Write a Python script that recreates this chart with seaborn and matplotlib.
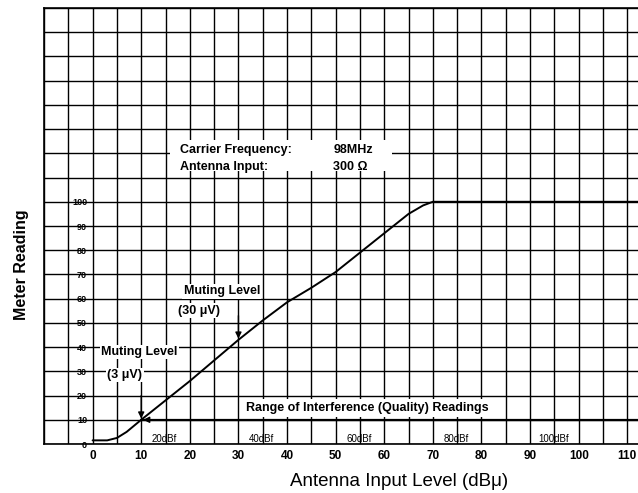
import matplotlib
matplotlib.use("Agg")
import matplotlib.pyplot as plt
import seaborn as sns
import numpy as np
import pandas as pd
from matplotlib.patches import Rectangle

# ---- data ----
input_level = [0, 3, 5, 7, 10, 15, 20, 25, 30, 35, 40, 45, 50, 55, 60, 65, 68, 70, 72, 113]
meter_reading = [1.5, 1.5, 2.5, 5, 10, 18, 26, 34.5, 43, 51, 58.5, 64.5, 71, 79, 87, 95, 98.5, 100, 100, 100]
x_ticks = [0, 10, 20, 30, 40, 50, 60, 70, 80, 90, 100, 110]
y_ticks = [0, 10, 20, 30, 40, 50, 60, 70, 80, 90, 100]
dbf_labels = ["20dBf", "40dBf", "60dBf", "80dBf", "100dBf"]
dbf_positions = [14.8, 34.8, 54.8, 74.8, 94.8]

sns.set_theme(style="white")
plt.rcParams['font.family'] = ['Liberation Sans', 'DejaVu Sans']
plt.rcParams.update({"text.color": "black", "axes.labelcolor": "black",
                     "xtick.color": "black", "ytick.color": "black"})

fig = plt.figure(figsize=(6.38, 4.93), dpi=100)
ax = fig.add_axes([44/638, 49/493, 1 - 44/638, (444 - 8)/493])

df = pd.DataFrame({"x": input_level, "y": meter_reading})
sns.lineplot(data=df, x="x", y="y", ax=ax, color="black", linewidth=1.4, zorder=4)

ax.set_xlim(-10, 112.2)
ax.set_ylim(0, 180)

# grid
ax.set_xticks(x_ticks)
ax.set_yticks(y_ticks)
ax.set_xticks(np.arange(-10, 113, 5), minor=True)
ax.set_yticks(np.arange(0, 181, 10), minor=True)
ax.grid(which="both", color="black", linewidth=1.0)
ax.set_axisbelow(True)

ax.set_xticklabels([str(t) for t in x_ticks], fontsize=8.5, fontweight="bold", color="black")
ax.set_yticklabels([str(t) for t in y_ticks], fontsize=6.5, fontweight="bold", color="black")
ax.tick_params(axis="x", which="both", length=0, pad=4, labelcolor="black")
ax.tick_params(axis="y", which="both", length=0, pad=-31, labelcolor="black")

for s in ["left", "bottom", "top"]:
    ax.spines[s].set_color("black")
    ax.spines[s].set_linewidth(1.2)
ax.spines["right"].set_visible(False)

ax.set_xlabel("")
ax.set_ylabel("")

# y label and x label
fig.text(22/638, 1 - 265/493, "Meter Reading", rotation=90, ha="center", va="center",
         fontsize=11.5, fontweight="bold", color="black")
fig.text(399/638, 1 - 482/493, "Antenna Input Level (dB\u03bc)", ha="center", va="center",
         fontsize=13.5, color="black")

fs = 9
# info box
ax.add_patch(Rectangle((16, 112.6), 45.6, 13.0, facecolor="white", edgecolor="none", zorder=2))
ax.text(18, 121.5, "Carrier Frequency:", fontsize=fs, fontweight="bold", va="center", zorder=3)
ax.text(18, 114.5, "Antenna Input:", fontsize=fs, fontweight="bold", va="center", zorder=3)
ax.text(49.5, 121.5, "98MHz", fontsize=fs, fontweight="bold", va="center", zorder=3)
ax.text(49.5, 114.5, "300 \u03a9", fontsize=fs, fontweight="bold", va="center", zorder=3)

box = dict(facecolor="white", edgecolor="none", pad=1)
ax.text(18.7, 63, "Muting Level", fontsize=fs, fontweight="bold", va="center", bbox=box, zorder=3)
ax.text(17.5, 55, "(30 \u03bcV)", fontsize=fs, fontweight="bold", va="center", bbox=box, zorder=3)
ax.text(1.8, 38, "Muting Level", fontsize=fs, fontweight="bold", va="center", bbox=box, zorder=3)
ax.text(3.0, 28.5, "(3 \u03bcV)", fontsize=fs, fontweight="bold", va="center", bbox=box, zorder=3)
ax.text(56.5, 14.9, "Range of Interference (Quality) Readings", fontsize=fs, fontweight="bold",
        ha="center", va="center", bbox=dict(facecolor="white", edgecolor="none", pad=2), zorder=3)

# arrows
arrow = dict(arrowstyle="-|>", color="black", lw=1.0, mutation_scale=9, shrinkA=0, shrinkB=0)
ax.annotate("", xy=(30, 43.5), xytext=(30, 53), arrowprops=arrow, zorder=5)
ax.annotate("", xy=(10, 10.5), xytext=(10, 20), arrowprops=arrow, zorder=5)
ax.annotate("", xy=(10.4, 10), xytext=(14, 10), arrowprops=arrow, zorder=5)
ax.plot([10, 112.2], [10, 10], color="black", linewidth=1.6, zorder=3, clip_on=True)

for lab, pos in zip(dbf_labels, dbf_positions):
    ax.text(pos, 1.9, lab, fontsize=7, ha="center", va="center", zorder=3)

fig.savefig("out.png", dpi=100, facecolor="white")
